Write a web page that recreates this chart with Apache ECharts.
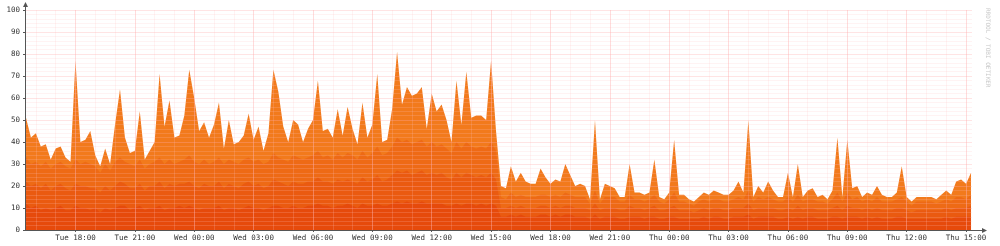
<!DOCTYPE html>
<html><head><meta charset="utf-8">
<script src="https://cdn.jsdelivr.net/npm/echarts@6/dist/echarts.min.js"></script>
<style>html,body{margin:0;padding:0;background:#fff;}#c{width:1000px;height:246px;}</style>
</head><body><div id="c"></div>
<script>
// x values: hours since Tue 00:00, one sample every 15 minutes from Tue 15:30
const startHour = 15.5;
const stepHours = 0.25;
const axisStartHour = 15.45;
const axisEndHour = 63.3;

// top of the stack (total)
const totalLoad = [
51,42,44,38,39,32,37,38,33,31,
77,40,41,45,34,29,37,30,48,64,
42,35,36,54,32,36,40,71,47,59,
42,43,52,73,60,45,49,42,48,58,
37,50,39,40,43,53,41,47,36,44,
73,63,47,40,50,48,40,46,50,68,
45,46,42,55,43,56,46,39,58,42,
48,71,40,41,55,81,57,65,61,62,
65,46,62,54,57,50,40,68,48,72,
51,52,52,50,77,45,20,19,29,22,
26,22,21,21,28,24,21,23,22,30,
25,20,21,20,14,50,14,21,20,19,
15,15,30,17,17,16,17,32,15,14,
17,41,16,16,14,13,15,17,16,18,
17,16,16,18,22,17,50,15,20,17,
22,18,15,15,26,15,30,15,18,19,
15,16,14,18,42,15,41,19,20,15,
17,16,20,16,15,15,17,29,15,13,
15,15,15,15,14,16,18,16,22,23,21,26];

// upper edge of the third layer
const layer3Top = [
33,30,31,29,31,28,30,31,29,28,
32,30,31,30,29,26,30,27,31,33,
31,30,29,32,28,30,31,33,30,32,
30,31,32,34,31,30,32,30,31,33,
30,32,31,30,32,33,31,32,30,31,
35,33,32,31,34,33,32,33,34,36,
33,34,32,35,33,35,34,32,36,33,
35,38,34,35,38,42,40,41,39,40,
41,38,40,38,39,37,35,40,37,40,
38,37,38,37,40,36,15,14,17,15,
16,15,15,15,16,16,15,16,15,17,
16,15,15,15,12,18,12,15,15,15,
13,13,16,14,14,13,14,16,13,12,
14,17,13,13,12,11,13,14,13,14,
14,13,13,14,15,14,18,13,15,14,
15,14,13,13,15,13,16,13,14,14,
13,13,12,14,17,13,17,14,15,13,
14,13,15,13,13,13,14,15,13,11,
13,13,13,13,12,13,14,13,15,15,14,16];

// upper edge of the second layer
const layer2Top = [
22,20,21,19,21,18,20,21,19,18,
21,20,20,19,19,17,20,18,20,22,
21,19,19,21,18,20,20,22,19,21,
20,21,21,22,20,19,21,20,20,22,
19,21,20,19,21,22,20,21,19,20,
23,22,21,20,22,21,21,22,22,24,
22,22,21,23,22,23,22,21,24,22,
23,25,22,23,25,27,26,27,25,26,
27,25,26,25,26,24,23,26,24,26,
25,24,25,24,26,23,10,10,11,10,
11,10,10,10,11,11,10,11,10,11,
11,10,10,10,9,12,9,10,10,10,
9,9,11,10,10,9,10,11,9,9,
10,11,9,9,9,8,9,10,9,10,
10,9,9,10,10,10,12,9,10,10,
10,10,9,9,10,9,11,9,10,10,
9,9,9,10,11,9,11,10,10,9,
10,9,10,9,9,9,10,10,9,8,
9,9,9,9,9,9,10,9,10,10,10,11];

// upper edge of the bottom layer
const layer1Top = [
12,10,11,9,10,9,10,11,9,9,
11,10,10,9,10,8,10,9,10,11,
11,9,10,11,9,10,10,11,9,10,
10,11,10,11,10,9,10,10,10,11,
9,10,10,9,10,11,10,10,9,10,
11,11,10,10,11,10,10,11,11,12,
11,11,10,11,11,12,11,10,12,11,
11,12,11,11,12,13,12,13,12,12,
13,12,12,12,12,11,11,12,11,12,
12,11,12,11,12,11,6,6,7,6,
7,6,6,6,7,7,6,7,6,7,
7,6,6,6,5,7,5,6,6,6,
5,5,6,6,6,5,6,6,5,5,
6,6,5,5,5,5,5,6,5,6,
6,5,5,6,6,6,7,5,6,6,
6,6,5,5,6,5,6,5,6,6,
5,5,5,6,6,5,6,6,6,5,
6,5,6,5,5,5,6,6,5,5,
5,5,5,5,5,5,6,5,6,6,6,6];

const tickHours = [18,21,24,27,30,33,36,39,42,45,48,51,54,57,60,63];
const tickLabels = ['Tue 18:00','Tue 21:00','Wed 00:00','Wed 03:00','Wed 06:00','Wed 09:00','Wed 12:00','Wed 15:00',
  'Wed 18:00','Wed 21:00','Thu 00:00','Thu 03:00','Thu 06:00','Thu 09:00','Thu 12:00','Thu 15:00'];
const hourTicks = [16,17,18,19,20,21,22,23,24,25,26,27,28,29,30,31,32,33,34,35,36,37,38,39,40,41,42,43,44,45,46,47,48,49,50,51,52,53,54,55,56,57,58,59,60,61,62,63];

const layerColors = ['#f27a1c', '#ee6a15', '#ea5a10', '#e64a0b'];
const layerNames = ['total', 'layer3', 'layer2', 'layer1'];
const layerData = [totalLoad, layer3Top, layer2Top, layer1Top];

const FONT = 'DejaVu Sans Mono';
const majorGrid = 'rgba(255,170,170,0.32)';
const minorGrid = 'rgba(255,195,195,0.2)';
const axisColor = '#555';

const chart = echarts.init(document.getElementById('c'), null, {renderer: 'canvas'});

const series = layerData.map((arr, k) => ({
  name: layerNames[k],
  type: 'line',
  xAxisIndex: 0, yAxisIndex: 0,
  data: arr.map((v, i) => [startHour + i * stepHours, v]),
  showSymbol: false, symbol: 'none',
  lineStyle: {width: 0},
  areaStyle: {color: layerColors[k], opacity: 1},
  silent: true,
  z: 2 + k * 0.01
}));

chart.setOption({
  animation: false,
  backgroundColor: '#ffffff',
  grid: {left: 25, right: 28, top: 10, bottom: 16, containLabel: false},
  xAxis: [{
    type: 'value', min: axisStartHour, max: axisEndHour, z: 5,
    axisLine: {show: true, onZero: false, lineStyle: {color: axisColor, width: 1}},
    axisTick: {show: true, length: 2, customValues: tickHours, lineStyle: {color: axisColor}},
    axisLabel: {show: true, customValues: tickHours, margin: 4, color: '#333', fontFamily: FONT, fontSize: 7.5,
      formatter: v => { const j = tickHours.indexOf(Math.round(v)); return j >= 0 ? tickLabels[j] : ''; }},
    splitLine: {show: true, lineStyle: {color: majorGrid, width: 1}}
  }, {
    type: 'value', min: axisStartHour, max: axisEndHour, z: 4,
    axisLine: {show: false}, axisLabel: {show: false},
    axisTick: {show: false, customValues: hourTicks},
    splitLine: {show: true, lineStyle: {color: minorGrid, width: 1}}
  }],
  yAxis: [{
    type: 'value', min: 0, max: 100, interval: 10, z: 5,
    axisLine: {show: true, lineStyle: {color: axisColor, width: 1}},
    axisTick: {show: true, length: 2, lineStyle: {color: axisColor}},
    axisLabel: {margin: 5, color: '#333', fontFamily: FONT, fontSize: 7.5},
    splitLine: {show: true, lineStyle: {color: majorGrid, width: 1}},
    minorTick: {show: false, splitNumber: 5},
    minorSplitLine: {show: true, lineStyle: {color: minorGrid, width: 1}}
  }],
  series: series
});

// axis arrows and watermark (decorations)
const o = chart.convertToPixel({xAxisIndex: 0, yAxisIndex: 0}, [axisStartHour, 0]);
const xe = chart.convertToPixel({xAxisIndex: 0, yAxisIndex: 0}, [axisEndHour, 100]);
const ax = Math.round(o[0]) + 0.5, ay = Math.round(o[1]) + 0.5;
const rx = Math.round(xe[0]), ty = Math.round(xe[1]);
chart.setOption({
  graphic: [
    {type: 'line', z: 100, shape: {x1: rx, y1: ay, x2: rx + 12, y2: ay}, style: {stroke: axisColor, lineWidth: 1}},
    {type: 'polygon', z: 100, shape: {points: [[rx + 10, ay - 2.5], [rx + 15, ay], [rx + 10, ay + 2.5]]}, style: {fill: axisColor}},
    {type: 'line', z: 100, shape: {x1: ax, y1: ty, x2: ax, y2: ty - 6}, style: {stroke: axisColor, lineWidth: 1}},
    {type: 'polygon', z: 100, shape: {points: [[ax - 2.5, ty - 3], [ax, ty - 8], [ax + 2.5, ty - 3]]}, style: {fill: axisColor}},
    {type: 'text', z: 100, x: 988, y: 8, rotation: -Math.PI / 2,
      style: {text: 'RRDTOOL / TOBI OETIKER', fill: '#c8c8c8', font: '6px "DejaVu Sans Mono"', textAlign: 'left', textVerticalAlign: 'middle'}}
  ]
});
</script>
</body></html>
